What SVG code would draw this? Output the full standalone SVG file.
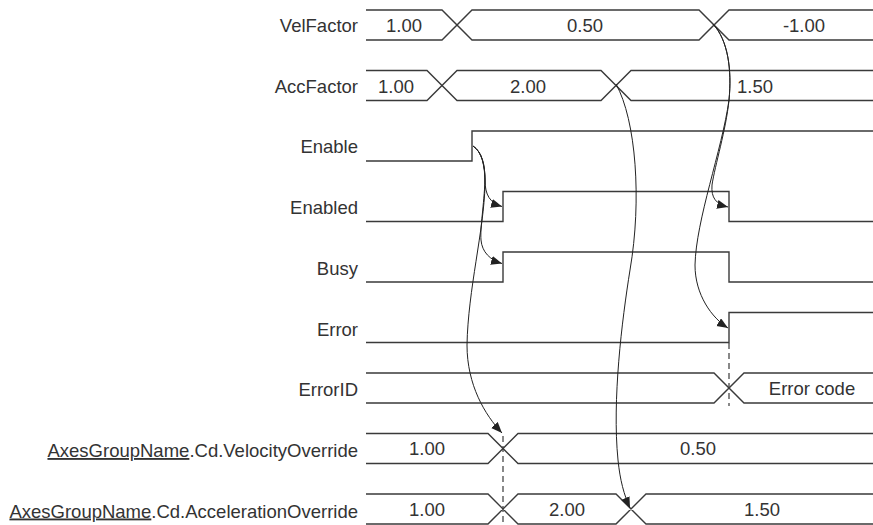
<svg xmlns="http://www.w3.org/2000/svg" width="873" height="525" viewBox="0 0 873 525">
<defs>
<marker id="arr" markerUnits="userSpaceOnUse" markerWidth="13" markerHeight="11" refX="11" refY="4.5" orient="auto">
<path d="M0,0 L11,4.5 L0,9 z" fill="#222"/>
</marker>
</defs>
<style>
.lbl{font-family:"Liberation Sans",Arial,sans-serif;font-size:18.5px;fill:#333;text-anchor:end}
.val{font-family:"Liberation Sans",Arial,sans-serif;font-size:18.5px;fill:#333;text-anchor:middle}
.sig{fill:none;stroke:#3a3a3a;stroke-width:1.4}
.dash{fill:none;stroke:#3a3a3a;stroke-width:1.2;stroke-dasharray:6,4}
.cur{fill:none;stroke:#222;stroke-width:1;marker-end:url(#arr)}
</style>
<rect width="873" height="525" fill="#fff"/>

<g id="VelFactor">
<text class="lbl" x="358" y="32">VelFactor</text>
<path class="sig" d="M366,10 H442 L472,40 H699 L729,10 H873 M366,40 H442 L472,10 H699 L729,40 H873"/>
<text class="val" x="404" y="32">1.00</text>
<text class="val" x="585" y="32">0.50</text>
<text class="val" x="804" y="32">-1.00</text>
</g>

<g id="AccFactor">
<text class="lbl" x="358" y="92.5">AccFactor</text>
<path class="sig" d="M366,70.5 H427 L457,100.5 H601 L631,70.5 H873 M366,100.5 H427 L457,70.5 H601 L631,100.5 H873"/>
<text class="val" x="396" y="92.5">1.00</text>
<text class="val" x="528" y="92.5">2.00</text>
<text class="val" x="755" y="92.5">1.50</text>
</g>

<g id="Enable">
<text class="lbl" x="358" y="153">Enable</text>
<path class="sig" d="M366,161 H472 V131 H873"/>
</g>

<g id="Enabled">
<text class="lbl" x="358" y="214">Enabled</text>
<path class="sig" d="M366,221.5 H503 V191.5 H729 V221.5 H873"/>
</g>

<g id="Busy">
<text class="lbl" x="358" y="275">Busy</text>
<path class="sig" d="M366,282 H503 V252 H729 V282 H873"/>
</g>

<g id="Error">
<text class="lbl" x="358" y="336">Error</text>
<path class="sig" d="M366,342.5 H729 V312.5 H873"/>
</g>

<g id="ErrorID">
<text class="lbl" x="358" y="396">ErrorID</text>
<path class="sig" d="M366,373 H714 L744,403 H873 M366,403 H714 L744,373 H873"/>
<text class="val" x="812" y="394.5">Error code</text>
</g>

<g id="VelocityOverride">
<text class="lbl" x="358" y="457"><tspan text-decoration="underline">AxesGroupName</tspan>.Cd.VelocityOverride</text>
<path class="sig" d="M366,433.5 H488 L518,463.5 H873 M366,463.5 H488 L518,433.5 H873"/>
<text class="val" x="427" y="455">1.00</text>
<text class="val" x="698" y="455">0.50</text>
</g>

<g id="AccelerationOverride">
<text class="lbl" x="358" y="517.5"><tspan text-decoration="underline">AxesGroupName</tspan>.Cd.AccelerationOverride</text>
<path class="sig" d="M366,494 H488 L518,524 H616 L646,494 H873 M366,524 H488 L518,494 H616 L646,524 H873"/>
<text class="val" x="427" y="515.5">1.00</text>
<text class="val" x="567" y="515.5">2.00</text>
<text class="val" x="762" y="515.5">1.50</text>
</g>

<g id="connectors">
<path class="dash" d="M729,343 V406"/>
<path class="dash" d="M503,436 V525"/>
<path class="cur" d="M473,146 C482,152 485,165 485,180 C485,195 490,203 502,206.5"/>
<path class="cur" d="M473,146 C482,152 485,165 485,180 C484,205 480,228 481,240 C482,252 490,260 502,263.5"/>
<path class="cur" d="M473,146 C482,152 485,165 485,185 C484,230 468,290 467,345 C467,385 485,415 502,433"/>
<path class="cur" d="M713,24 C728,40 732,70 729,100 C726,130 715,165 712,185 C711,198 716,204 728,207"/>
<path class="cur" d="M713,24 C728,40 732,70 729,100 C722,150 696,220 695,265 C695,295 712,318 728,328"/>
<path class="cur" d="M616,84 C636,120 642,200 630,270 C622,320 612,400 618,460 C620,480 624,495 630,508"/>
</g>
</svg>
